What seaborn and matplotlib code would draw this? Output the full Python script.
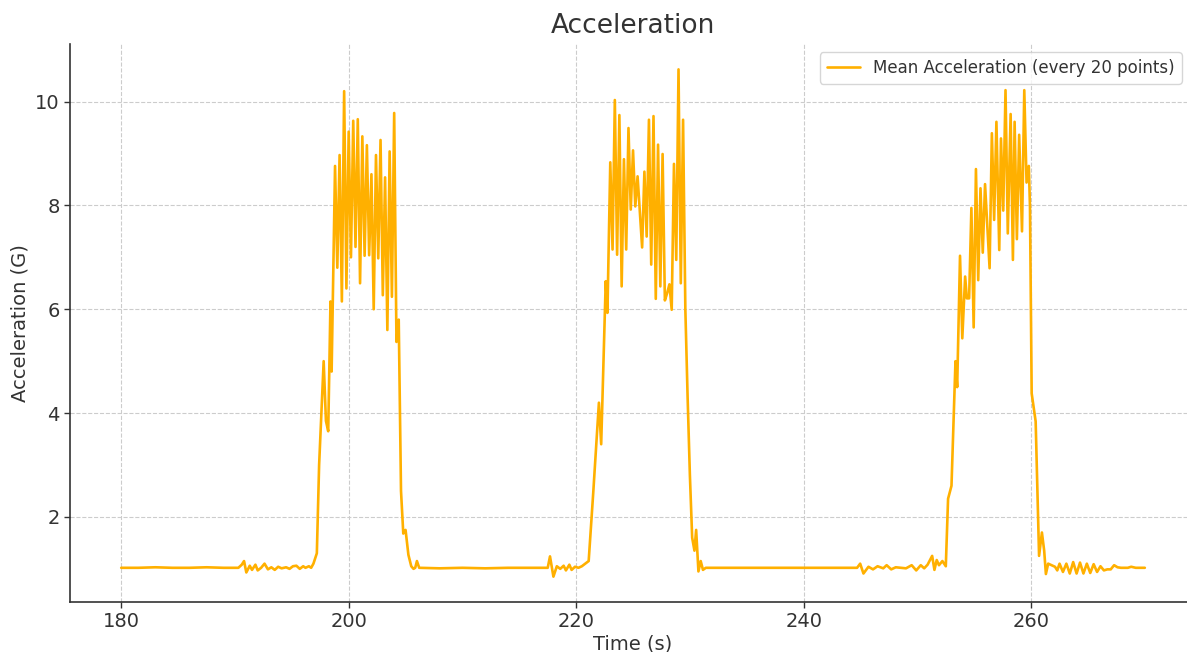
import matplotlib
matplotlib.use("Agg")
import matplotlib.pyplot as plt
import pandas as pd
import seaborn as sns

# ---------------------------------------------------------------------------
# Data (time in s, mean acceleration in G)
# ---------------------------------------------------------------------------
time_s = [
    # quiet start
    180.0, 181.5, 183.0, 184.5, 186.0, 187.5, 189.0, 190.3,
    190.6, 190.8, 191.0, 191.3, 191.5, 191.8, 192.0, 192.3, 192.6, 192.9,
    193.2, 193.5, 193.8, 194.1, 194.5, 194.8, 195.1, 195.4, 195.7, 196.0,
    196.2, 196.5, 196.7, 196.9,
    # burst 1
    197.2, 197.4, 197.8, 198.0, 198.2, 198.4, 198.5, 198.8, 199.0, 199.2,
    199.4, 199.6, 199.8, 200.0, 200.2, 200.4, 200.6, 200.8, 201.0, 201.2,
    201.4, 201.6, 201.8, 202.0, 202.2, 202.4, 202.6, 202.8, 203.0, 203.2,
    203.4, 203.6, 203.8, 204.0, 204.2, 204.4, 204.6, 204.8, 205.0, 205.25,
    205.5, 205.7, 205.85, 206.0, 206.2,
    # quiet
    208.0, 210.0, 212.0, 214.0, 216.0, 217.5,
    217.7, 218.0, 218.3, 218.6, 218.9, 219.1, 219.4, 219.6, 219.9, 220.2,
    220.5, 220.8,
    # burst 2
    221.1, 221.5, 222.0, 222.2, 222.6, 222.75, 223.0, 223.2, 223.4, 223.6,
    223.8, 224.0, 224.2, 224.4, 224.6, 224.8, 225.0, 225.2, 225.4, 225.8,
    226.0, 226.2, 226.4, 226.6, 226.8, 227.0, 227.2, 227.4, 227.6, 227.8,
    228.0, 228.2, 228.4, 228.6, 228.8, 229.0, 229.2, 229.4, 229.6, 229.8,
    230.0, 230.2, 230.4, 230.55, 230.75, 230.95, 231.15, 231.4,
    # quiet
    233.0, 235.0, 237.0, 239.0, 241.0, 243.0, 244.7,
    244.97, 245.26, 245.7, 246.1, 246.5, 247.0, 247.3, 247.7, 248.1, 249.0,
    249.5, 249.9, 250.3, 250.6, 250.9, 251.3, 251.5, 251.7, 251.9, 252.2,
    252.5,
    # burst 3
    252.7, 253.0, 253.2, 253.35, 253.5, 253.75, 253.95, 254.2, 254.35, 254.55,
    254.75, 254.95, 255.15, 255.35, 255.55, 255.75, 255.95, 256.35, 256.55, 256.75,
    256.95, 257.2, 257.35, 257.55, 257.75, 257.95, 258.2, 258.4, 258.55, 258.75,
    258.95, 259.2, 259.4, 259.6, 259.8, 259.9, 260.05, 260.4, 260.7, 260.95,
    261.15, 261.3, 261.5, 261.8, 262.1, 262.3, 262.5, 262.8, 263.1, 263.4,
    263.7, 264.0, 264.3, 264.6, 264.9, 265.2, 265.5, 265.8, 266.1, 266.4,
    266.7, 267.0, 267.3, 267.6, 267.9, 268.5, 268.8, 269.2, 269.6, 270.0,
]

accel_g = [
    # quiet start
    1.02, 1.02, 1.03, 1.02, 1.02, 1.03, 1.02, 1.02,
    1.08, 1.15, 0.93, 1.06, 0.98, 1.08, 0.97, 1.02, 1.10, 0.99,
    1.03, 0.98, 1.04, 1.01, 1.03, 1.00, 1.05, 1.06, 1.00, 1.05,
    1.02, 1.05, 1.02, 1.10,
    # burst 1
    1.30, 3.00, 5.00, 3.85, 3.65, 6.15, 4.80, 8.76, 6.80, 8.97,
    6.15, 10.20, 6.40, 9.42, 7.00, 9.63, 7.20, 9.66, 6.50, 9.33,
    7.03, 9.16, 7.04, 8.60, 6.00, 8.97, 6.98, 9.26, 6.27, 8.54,
    5.60, 9.04, 6.24, 9.78, 5.37, 5.80, 2.50, 1.68, 1.75, 1.27,
    1.05, 1.00, 1.02, 1.15, 1.02,
    # quiet
    1.01, 1.02, 1.01, 1.02, 1.02, 1.02,
    1.24, 0.85, 1.05, 1.00, 1.06, 0.97, 1.08, 0.98, 1.04, 1.02,
    1.05, 1.10,
    # burst 2
    1.15, 2.46, 4.20, 3.40, 6.54, 5.93, 8.83, 7.15, 10.03, 7.05,
    9.74, 6.44, 8.89, 7.15, 9.49, 7.92, 9.06, 7.98, 8.56, 7.19,
    8.65, 7.40, 9.65, 6.86, 9.72, 6.20, 9.17, 6.44, 8.99, 6.17,
    6.31, 6.48, 5.99, 8.80, 6.95, 10.62, 6.50, 9.65, 6.00, 4.30,
    2.80, 1.60, 1.35, 1.75, 0.95, 1.15, 0.98, 1.02,
    # quiet
    1.02, 1.02, 1.02, 1.02, 1.02, 1.02, 1.02,
    1.10, 0.91, 1.04, 0.99, 1.05, 1.01, 1.07, 0.99, 1.03, 1.01,
    1.07, 0.97, 1.07, 1.01, 1.08, 1.25, 0.98, 1.17, 1.07, 1.15,
    1.05,
    # burst 3
    2.35, 2.60, 4.00, 5.00, 4.50, 7.03, 5.44, 6.63, 6.21, 6.21,
    7.95, 5.65, 8.70, 6.56, 8.33, 7.09, 8.41, 6.79, 9.39, 7.72,
    9.61, 7.14, 9.29, 7.90, 10.22, 7.46, 9.76, 6.95, 9.61, 7.35,
    9.36, 7.50, 10.22, 8.44, 8.76, 7.98, 4.38, 3.84, 1.25, 1.70,
    1.35, 0.90, 1.10, 1.07, 1.04, 0.97, 1.10, 0.94, 1.10, 0.91,
    1.13, 0.91, 1.12, 0.91, 1.10, 0.92, 1.09, 0.94, 1.05, 0.97,
    0.99, 0.99, 1.07, 1.03, 1.02, 1.02, 1.04, 1.02, 1.02, 1.02,
]

LINE_LABEL = "Mean Acceleration (every 20 points)"
C_LINE = "#FFB000"
C_TEXT = "#333333"

df = pd.DataFrame({"Time (s)": time_s, "Acceleration (G)": accel_g})

# ---------------------------------------------------------------------------
# Plot
# ---------------------------------------------------------------------------
sns.set_theme(style="whitegrid")
plt.rcParams["font.family"] = ["DejaVu Sans"]

fig, ax = plt.subplots(figsize=(11.87, 6.52), dpi=100)
# the reference axes run slightly past the right edge of the image
fig.subplots_adjust(left=0.059, right=1.0076, top=0.9325, bottom=0.0767)

sns.lineplot(data=df, x="Time (s)", y="Acceleration (G)", ax=ax,
             color=C_LINE, linewidth=1.9, estimator=None, label=LINE_LABEL)

ax.set_title("Acceleration", fontsize=19, color=C_TEXT, pad=8)
ax.set_xlabel("Time (s)", fontsize=14, color=C_TEXT, labelpad=2)
ax.set_ylabel("Acceleration (G)", fontsize=14, color=C_TEXT, labelpad=4)
ax.set_xticks([180, 200, 220, 240, 260])
ax.set_yticks([2, 4, 6, 8, 10])
ax.tick_params(axis="both", labelsize=14, colors=C_TEXT, length=4, width=1,
               direction="out", bottom=True, left=True)

ax.grid(True, linestyle="--", color="#cccccc", linewidth=0.8)
ax.set_facecolor("white")
sns.despine(ax=ax, top=True, right=True)
for side in ["left", "bottom"]:
    ax.spines[side].set_color(C_TEXT)
    ax.spines[side].set_linewidth(1.2)

leg = ax.legend(loc="upper right", bbox_to_anchor=(0.9947, 1.0), fontsize=12,
                frameon=True, borderaxespad=0.5, handlelength=2.0)
leg.get_frame().set_edgecolor("#cccccc")
for txt in leg.get_texts():
    txt.set_color(C_TEXT)

fig.savefig("out.png", dpi=100)
plt.close(fig)
